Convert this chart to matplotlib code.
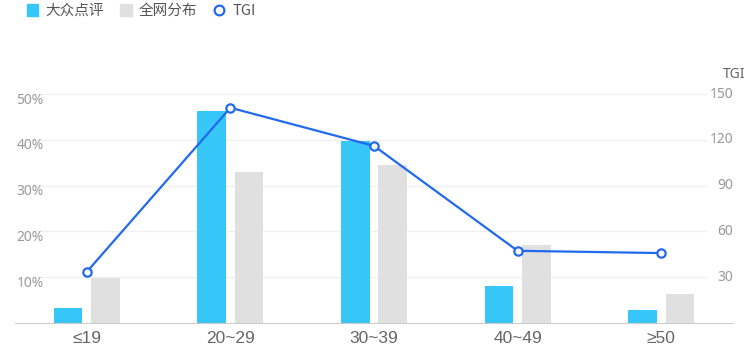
import matplotlib.pyplot as plt
import numpy as np
from matplotlib.patches import Patch
from matplotlib.lines import Line2D

plt.rcParams['font.family'] = ['Noto Sans', 'Noto Sans CJK SC', 'DejaVu Sans']

# data
categories = ['≤19', '20~29', '30~39', '40~49', '≥50']
dianping = [3.3, 46.3, 39.7, 8.0, 2.9]       # 大众点评, %
network = [9.8, 32.9, 34.4, 17.0, 6.3]       # 全网分布, %
tgi = [33.5, 141, 116, 47.3, 45.8]
left_ticks = [10, 20, 30, 40, 50]
right_ticks = [30, 60, 90, 120, 150]

BLUE_BAR = '#36c6f8'
GRAY_BAR = '#e0e0e0'
LINE_BLUE = '#2169ee'
LABEL = '#999999'

fig = plt.figure(figsize=(7.48, 3.6), dpi=100)
ax = fig.add_axes([15 / 748, 37 / 360, 718 / 748, 229 / 360])
ax2 = ax.twinx()

x = np.arange(len(categories))
w = 0.2
off = 0.13
ax.bar(x - off, dianping, width=w, color=BLUE_BAR, zorder=2)
ax.bar(x + off, network, width=w, color=GRAY_BAR, zorder=2)
ax.set_xlim(-0.5, len(categories) - 0.5)
ax.set_ylim(0, 50)

ax2.plot(x, tgi, color=LINE_BLUE, lw=1.6, marker='o', ms=6,
         mfc='white', mec=LINE_BLUE, mew=1.6, zorder=5, clip_on=False)
ax2.set_ylim(0, 150)

# gridlines and value labels, drawn by hand like the web chart
tr = ax.get_yaxis_transform()
for v in left_ticks:
    ax.plot([0.025, 0.962], [v, v], transform=tr, color='#f0f0f0', lw=1, zorder=0)
    ax.annotate(f'{v}%', xy=(0.04, v), xycoords=tr, xytext=(0, -6),
                textcoords='offset pixels', ha='right', va='center',
                fontsize=10, color=LABEL)
tr2 = ax2.get_yaxis_transform()
for v in right_ticks:
    ax2.annotate(f'{v}', xy=(1.0, v), xycoords=tr2, xytext=(0, 0),
                 textcoords='offset pixels', ha='right', va='center',
                 fontsize=10, color=LABEL)
ax2.annotate('TGI', xy=(1.0, 150), xycoords=tr2, xytext=(12, 20),
             textcoords='offset pixels', ha='right', va='center',
             fontsize=10, color='#666666')

for a in (ax, ax2):
    for s in ('top', 'left', 'right'):
        a.spines[s].set_visible(False)
    a.set_yticks([])
ax.spines['bottom'].set_color('#cccccc')
ax2.spines['bottom'].set_visible(False)
ax.set_xticks(x)
ax.set_xticklabels(categories, fontsize=12.5, color='#666666',
                   family=['Liberation Sans', 'DejaVu Sans'])
ax.tick_params(axis='x', length=0, pad=6)

handles = [
    Patch(color=BLUE_BAR, label='大众点评'),
    Patch(color=GRAY_BAR, label='全网分布'),
    Line2D([], [], color=LINE_BLUE, marker='o', ls='none', ms=7,
           mfc='white', mew=1.6, label='TGI'),
]
fig.legend(handles=handles, loc='upper left', bbox_to_anchor=(0.018, 1.025),
           ncol=3, frameon=False, handlelength=0.8,
           handleheight=0.8, handletextpad=0.5, columnspacing=1.1,
           labelcolor='#555555',
           prop={'family': ['Noto Sans CJK SC', 'DejaVu Sans'], 'size': 10.5})

fig.savefig('out.png', dpi=100)
